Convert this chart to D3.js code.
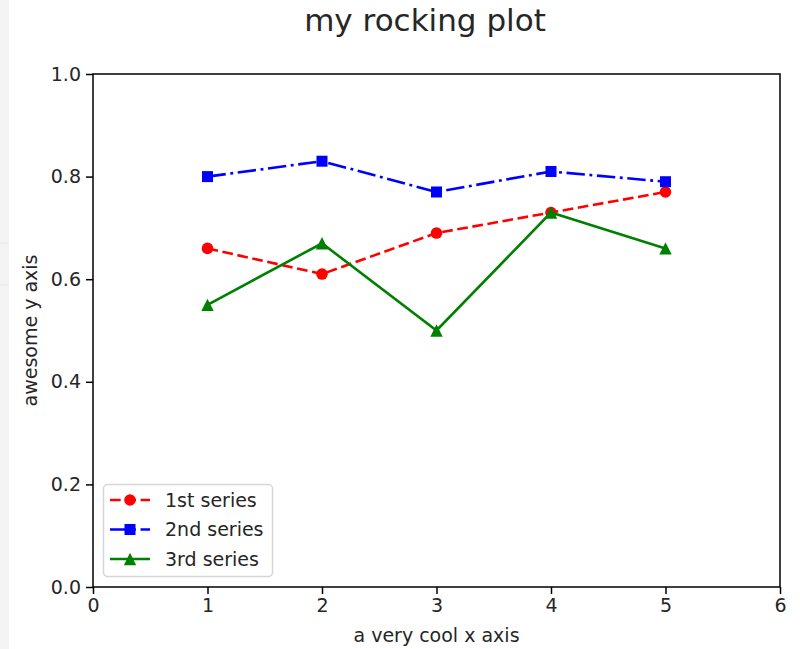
<!DOCTYPE html>
<html><head><meta charset="utf-8">
<script src="https://cdn.jsdelivr.net/npm/d3@7"></script>
<style>body{margin:0;background:#fff;} svg{display:block;font-family:"DejaVu Sans",sans-serif;}</style>
</head><body>
<script>
const xValues = [1, 2, 3, 4, 5];
const series1 = [0.66, 0.61, 0.69, 0.73, 0.77];
const series2 = [0.80, 0.83, 0.77, 0.81, 0.79];
const series3 = [0.55, 0.67, 0.50, 0.73, 0.66];
const seriesNames = ["1st series", "2nd series", "3rd series"];
const xTicks = [0, 1, 2, 3, 4, 5, 6];
const yTicks = [0.0, 0.2, 0.4, 0.6, 0.8, 1.0];

const W = 800, H = 649;
const svg = d3.select("body").append("svg").attr("width", W).attr("height", H);
svg.append("rect").attr("width", W).attr("height", H).attr("fill", "#fff");
// screenshot gray strip on the left
svg.append("rect").attr("x", 0).attr("y", 0).attr("width", 9).attr("height", H).attr("fill", "#f4f4f4");
svg.append("line").attr("x1",0).attr("x2",9).attr("y1",243).attr("y2",243).attr("stroke","#e4e4e4");
svg.append("line").attr("x1",0).attr("x2",9).attr("y1",285).attr("y2",285).attr("stroke","#e4e4e4");

const L = 93, R = 780, T = 74, B = 587;
const x = d3.scaleLinear().domain([0, 6]).range([L, R]);
const y = d3.scaleLinear().domain([0, 1]).range([B, T]);

const fs = 19;
const xAxis = svg.append("g").attr("transform", `translate(0,${B})`)
  .call(d3.axisBottom(x).tickValues(xTicks).tickFormat(d3.format("d")).tickSize(7).tickPadding(5));
const yAxis = svg.append("g").attr("transform", `translate(${L},0)`)
  .call(d3.axisLeft(y).tickValues(yTicks).tickFormat(d3.format(".1f")).tickSize(7).tickPadding(5));
[xAxis, yAxis].forEach(g => {
  g.select(".domain").remove();
  g.selectAll(".tick line").attr("stroke", "#000").attr("stroke-width", 1.5);
  g.selectAll(".tick text").attr("fill", "#262626").style("font-size", fs + "px").style("font-family", "DejaVu Sans");
});
// frame
svg.append("rect").attr("x", L).attr("y", T).attr("width", R - L).attr("height", B - T)
  .attr("fill", "none").attr("stroke", "#000").attr("stroke-width", 1.5);

const styles = [
  {color: "#ff0000", dash: "10.7,4.6", marker: "circle"},
  {color: "#0000ff", dash: "18.4,4.6,2.9,4.6", marker: "square"},
  {color: "#008000", dash: null, marker: "triangle"}
];
const allSeries = [series1, series2, series3];
const line = d3.line().x((d, i) => x(xValues[i])).y(d => y(d));

function drawMarker(g, type, cx, cy, color) {
  if (type === "circle") {
    g.append("circle").attr("cx", cx).attr("cy", cy).attr("r", 5.8).attr("fill", color);
  } else if (type === "square") {
    g.append("rect").attr("x", cx - 5.5).attr("y", cy - 5.5).attr("width", 11).attr("height", 11).attr("fill", color);
  } else {
    const s = 6.2;
    g.append("path").attr("d", `M${cx},${cy - s}L${cx + s},${cy + s}L${cx - s},${cy + s}Z`).attr("fill", color);
  }
}

const plot = svg.append("g");
allSeries.forEach((vals, k) => {
  const st = styles[k];
  plot.append("path").datum(vals).attr("d", line).attr("fill", "none")
    .attr("stroke", st.color).attr("stroke-width", 2.6)
    .attr("stroke-dasharray", st.dash);
  vals.forEach((v, i) => drawMarker(plot, st.marker, x(xValues[i]), y(v), st.color));
});

// legend
const lg = svg.append("g");
lg.append("rect").attr("x", 103.5).attr("y", 484.5).attr("width", 169).attr("height", 92).attr("rx", 4)
  .attr("fill", "#fff").attr("fill-opacity", 0.8).attr("stroke", "#d6d6d6").attr("stroke-width", 1.5);
const rowsY = [500, 529.5, 559];
seriesNames.forEach((name, k) => {
  const st = styles[k];
  const ry = rowsY[k];
  lg.append("line").attr("x1", 110).attr("x2", 150).attr("y1", ry).attr("y2", ry)
    .attr("stroke", st.color).attr("stroke-width", 2.6).attr("stroke-dasharray", st.dash);
  drawMarker(lg, st.marker, 130, ry, st.color);
  lg.append("text").attr("x", 165).attr("y", ry).attr("dy", "0.35em")
    .attr("fill", "#262626").style("font-size", fs + "px").text(name);
});

// labels
svg.append("text").attr("x", (L + R) / 2).attr("y", 642).attr("text-anchor", "middle")
  .attr("fill", "#262626").style("font-size", fs + "px").text("a very cool x axis");
svg.append("text").attr("transform", `translate(37,${(T + B) / 2}) rotate(-90)`).attr("text-anchor", "middle")
  .attr("fill", "#262626").style("font-size", fs + "px").text("awesome y axis");
svg.append("text").attr("x", 425).attr("y", 31).attr("text-anchor", "middle")
  .attr("fill", "#262626").style("font-size", "31px").text("my rocking plot");
</script>
</body></html>
